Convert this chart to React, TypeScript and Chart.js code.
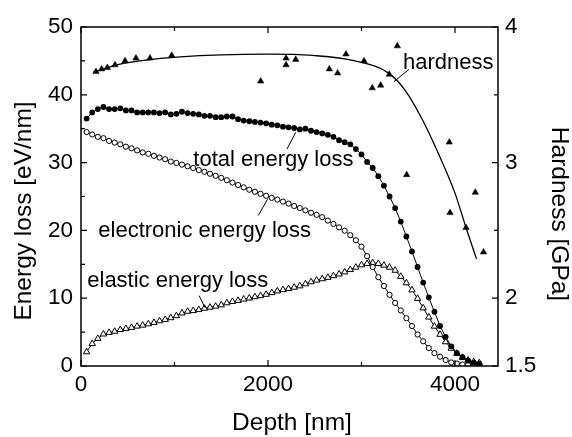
import React, { useEffect, useRef } from "react";
import { Chart, registerables } from "chart.js";

Chart.register(...registerables);

const FONT = '"Liberation Sans", Arial, Helvetica, sans-serif';

// Depth of each simulated point [nm]
const depth = [
  60, 120, 180, 240, 300, 360, 420, 480, 540, 600,
  660, 720, 780, 840, 900, 960, 1020, 1080, 1140, 1200,
  1260, 1320, 1380, 1440, 1500, 1560, 1620, 1680, 1740, 1800,
  1860, 1920, 1980, 2040, 2100, 2160, 2220, 2280, 2340, 2400,
  2460, 2520, 2580, 2640, 2700, 2760, 2820, 2880, 2940, 3000,
  3060, 3120, 3180, 3240, 3300, 3360, 3420, 3480, 3540, 3600,
  3660, 3720, 3780, 3840, 3900, 3960, 4020, 4080, 4140, 4200,
  4260,
];

// total energy loss [eV/nm]
const totalLoss = [
  36.5, 37.4, 37.9, 38.2, 37.9, 37.9, 38.0, 37.7, 37.7, 37.4,
  37.4, 37.4, 37.4, 37.3, 37.4, 37.1, 37.2, 37.5, 37.3, 37.2,
  37.1, 36.9, 36.9, 36.7, 36.7, 36.8, 36.8, 36.4, 36.2, 36.1,
  36.0, 35.9, 35.8, 35.6, 35.5, 35.3, 35.2, 35.1, 34.9, 35.0,
  34.7, 34.5, 34.3, 34.1, 33.8, 33.3, 33.0, 32.7, 32.0, 31.2,
  30.1, 29.2, 28.0, 26.6, 25.0, 23.3, 21.3, 19.1, 16.9, 14.6,
  12.3, 10.1, 8.0, 5.9, 4.3, 2.9, 1.9, 1.3, 0.8, 0.5,
  0.35,
];

// electronic energy loss [eV/nm]
const electronicLoss = [
  34.5, 34.15, 33.8, 33.6, 33.2, 32.95, 32.7, 32.35, 32.1, 31.8,
  31.5, 31.3, 31.0, 30.75, 30.5, 30.15, 29.95, 29.7, 29.45, 29.2,
  28.9, 28.65, 28.35, 28.05, 27.75, 27.4, 27.05, 26.7, 26.35, 26.0,
  25.7, 25.4, 25.1, 24.8, 24.55, 24.25, 23.95, 23.6, 23.3, 22.95,
  22.6, 22.3, 21.95, 21.45, 20.95, 20.45, 19.95, 19.3, 18.55, 17.6,
  16.2, 14.6, 13.1, 11.8, 10.5, 9.3, 8.2, 7.05, 5.9, 4.65,
  3.65, 2.65, 1.9, 1.38, 0.88, 0.52, 0.36, 0.22, 0.15, 0.1,
  0.05,
];

// elastic energy loss [eV/nm]
const elasticLoss = [
  2.07, 3.3, 4.05, 4.7, 4.93, 5.1, 5.35, 5.5, 5.67, 5.86,
  6.0, 6.2, 6.4, 6.65, 6.85, 7.1, 7.4, 7.8, 8.05, 8.15,
  8.3, 8.5, 8.65, 8.8, 9.0, 9.3, 9.5, 9.65, 9.85, 10.0,
  10.2, 10.35, 10.55, 10.8, 11.05, 11.25, 11.4, 11.6, 11.8, 12.1,
  12.4, 12.65, 12.85, 13.05, 13.3, 13.55, 13.85, 14.2, 14.55, 14.9,
  15.1, 15.2, 15.1, 14.85, 14.55, 14.1, 13.2, 12.25, 11.2, 9.95,
  8.55, 7.2, 5.85, 4.65, 3.55, 2.6, 1.85, 1.25, 0.85, 0.6,
  0.45,
];

// measured hardness
const hardnessDepth = [
  160, 221, 281, 364, 471, 588, 738, 970, 1922, 2193,
  2193, 2296, 2656, 2745, 2834, 3027, 3115, 3205, 3297, 3383,
  3483, 3939, 3947, 4118, 4217, 4305,
];
const hardnessGPa = [
  3.67, 3.69, 3.70, 3.72, 3.75, 3.77, 3.77, 3.79, 3.60, 3.77,
  3.72, 3.76, 3.69, 3.66, 3.80, 3.75, 3.55, 3.57, 3.65, 3.86,
  2.91, 3.15, 2.63, 2.52, 2.78, 2.34,
];

// hardness fit curve
const fitDepth = [132, 200, 380, 740, 1060, 1500, 2000, 2480, 2930, 3290, 3465, 3645, 3820, 4000, 4118, 4230];
const fitGPa = [3.67, 3.68, 3.72, 3.76, 3.78, 3.795, 3.80, 3.79, 3.75, 3.66, 3.535, 3.325, 3.07, 2.775, 2.52, 2.29];

// axes
const xTicks = [0, 1000, 2000, 3000, 4000];
const xLabels = [0, 2000, 4000];
const yTicks = [0, 5, 10, 15, 20, 25, 30, 35, 40, 45, 50];
const yLabels = [0, 10, 20, 30, 40, 50];
const y2Ticks = [1.5, 2, 2.5, 3, 3.5, 4];
const y2Labels = [1.5, 2, 3, 4];

// in-plot annotations (anchored in data units: depth, energy loss)
const annotations = [
  { text: "hardness", x: 3444, y: 43.8, x1: 3348, y1: 41.95, x2: 3508, y2: 43.75 },
  { text: "total energy loss", x: 1201, y: 29.54, x1: 2203, y1: 32.0, x2: 2296, y2: 34.45 },
  { text: "electronic energy loss", x: 185, y: 19.05, x1: 1896, y1: 22.2, x2: 1995, y2: 24.6 },
  { text: "elastic energy loss", x: 67, y: 11.67, x1: 1264, y1: 10.37, x2: 1326, y2: 8.6 },
];

const framePlugin = {
  id: "frame",
  afterDraw(chart: any) {
    const { ctx, chartArea: a, scales } = chart;
    const sx = scales.x;
    const sy = scales.y;
    const sy2 = scales.y1;
    ctx.save();
    ctx.strokeStyle = "#000";
    ctx.lineWidth = 1.5;
    ctx.strokeRect(a.left, a.top, a.right - a.left, a.bottom - a.top);

    ctx.lineWidth = 1.2;
    ctx.beginPath();
    xTicks.forEach((v) => {
      const p = sx.getPixelForValue(v);
      const L = xLabels.includes(v) ? 6 : 4;
      ctx.moveTo(p, a.bottom);
      ctx.lineTo(p, a.bottom - L);
      ctx.moveTo(p, a.top);
      ctx.lineTo(p, a.top + L);
    });
    yTicks.forEach((v) => {
      const p = sy.getPixelForValue(v);
      const L = yLabels.includes(v) ? 6 : 4;
      ctx.moveTo(a.left, p);
      ctx.lineTo(a.left + L, p);
    });
    y2Ticks.forEach((v) => {
      const p = sy2.getPixelForValue(v);
      const L = y2Labels.includes(v) ? 6 : 4;
      ctx.moveTo(a.right, p);
      ctx.lineTo(a.right - L, p);
    });
    ctx.stroke();

    // annotations
    ctx.fillStyle = "#000";
    ctx.font = `22px ${FONT}`;
    ctx.textAlign = "left";
    ctx.textBaseline = "alphabetic";
    ctx.lineWidth = 1;
    annotations.forEach((an) => {
      ctx.fillText(an.text, sx.getPixelForValue(an.x), sy.getPixelForValue(an.y));
      ctx.beginPath();
      ctx.moveTo(sx.getPixelForValue(an.x1), sy.getPixelForValue(an.y1));
      ctx.lineTo(sx.getPixelForValue(an.x2), sy.getPixelForValue(an.y2));
      ctx.stroke();
    });

    // axis titles
    ctx.font = `24.5px ${FONT}`;
    ctx.textAlign = "center";
    ctx.fillText("Depth [nm]", 292, 430);
    ctx.save();
    ctx.translate(31, 211);
    ctx.rotate(-Math.PI / 2);
    ctx.fillText("Energy loss [eV/nm]", 0, 0);
    ctx.restore();
    ctx.save();
    ctx.translate(552, 214);
    ctx.rotate(Math.PI / 2);
    ctx.fillText("Hardness [GPa]", 0, 0);
    ctx.restore();
    ctx.restore();
  },
};

export default function App() {
  const ref = useRef<HTMLCanvasElement | null>(null);

  useEffect(() => {
    if (!ref.current) return;
    const tickFont = { family: FONT, size: 22.5 };
    const chart = new Chart(ref.current, {
      type: "scatter",
      data: {
        datasets: [
          {
            label: "hardness",
            data: hardnessDepth.map((d, i) => ({ x: d, y: hardnessGPa[i] })),
            yAxisID: "y1",
            showLine: false,
            pointStyle: "triangle",
            pointRadius: 3.7,
            pointBackgroundColor: "#000",
            pointBorderColor: "#000",
            pointBorderWidth: 0.5,
          },
          {
            label: "hardness fit",
            data: fitDepth.map((d, i) => ({ x: d, y: fitGPa[i] })),
            yAxisID: "y1",
            showLine: true,
            borderColor: "#000",
            borderWidth: 1.3,
            pointRadius: 0,
            cubicInterpolationMode: "monotone",
          },
          {
            label: "total energy loss",
            data: depth.map((d, i) => ({ x: d, y: totalLoss[i] })),
            yAxisID: "y",
            showLine: true,
            borderColor: "#000",
            borderWidth: 1,
            pointStyle: "circle",
            pointRadius: 2.9,
            pointBackgroundColor: "#000",
            pointBorderColor: "#000",
            pointBorderWidth: 0,
          },
          {
            label: "electronic energy loss",
            data: depth.map((d, i) => ({ x: d, y: electronicLoss[i] })),
            yAxisID: "y",
            showLine: true,
            borderColor: "#000",
            borderWidth: 1,
            pointStyle: "circle",
            pointRadius: 2.6,
            pointBackgroundColor: "#fff",
            pointBorderColor: "#000",
            pointBorderWidth: 1,
          },
          {
            label: "elastic energy loss",
            data: depth.map((d, i) => ({ x: d, y: elasticLoss[i] })),
            yAxisID: "y",
            showLine: true,
            borderColor: "#000",
            borderWidth: 1,
            pointStyle: "triangle",
            pointRadius: 3.7,
            pointBackgroundColor: "#fff",
            pointBorderColor: "#000",
            pointBorderWidth: 1,
          },
        ],
      },
      options: {
        animation: false,
        responsive: false,
        devicePixelRatio: 1,
        layout: { padding: { top: 27, left: 0, right: 0, bottom: 0 } },
        plugins: { legend: { display: false }, tooltip: { enabled: false } },
        scales: {
          x: {
            type: "linear",
            min: 0,
            max: 4460,
            grid: { display: false, drawTicks: false },
            border: { display: false },
            afterBuildTicks: (s: any) => {
              s.ticks = xTicks.map((v) => ({ value: v }));
            },
            afterFit: (s: any) => {
              s.height = 71;
            },
            ticks: {
              font: tickFont,
              color: "#000",
              padding: 5.5,
              maxRotation: 0,
              autoSkip: false,
              callback: (v: any) => (xLabels.includes(Number(v)) ? String(v) : ""),
            },
          },
          y: {
            type: "linear",
            position: "left",
            min: 0,
            max: 50,
            grid: { display: false, drawTicks: false },
            border: { display: false },
            afterBuildTicks: (s: any) => {
              s.ticks = yTicks.map((v) => ({ value: v }));
            },
            afterFit: (s: any) => {
              s.width = 81;
            },
            ticks: {
              font: tickFont,
              color: "#000",
              padding: 8,
              autoSkip: false,
              callback: (v: any) => (yLabels.includes(Number(v)) ? String(v) : ""),
            },
          },
          y1: {
            type: "linear",
            position: "right",
            min: 1.5,
            max: 4,
            grid: { display: false, drawTicks: false },
            border: { display: false },
            afterBuildTicks: (s: any) => {
              s.ticks = y2Ticks.map((v) => ({ value: v }));
            },
            afterFit: (s: any) => {
              s.width = 74;
            },
            ticks: {
              font: tickFont,
              color: "#000",
              padding: 7,
              autoSkip: false,
              callback: (v: any) => (y2Labels.includes(Number(v)) ? String(v) : ""),
            },
          },
        },
      },
      plugins: [framePlugin],
    } as any);
    return () => chart.destroy();
  }, []);

  return (
    <div style={{ position: "absolute", left: 0, top: 0, width: 572, height: 437, background: "#fff" }}>
      <canvas ref={ref} width={572} height={437} style={{ width: 572, height: 437, display: "block" }} />
    </div>
  );
}
